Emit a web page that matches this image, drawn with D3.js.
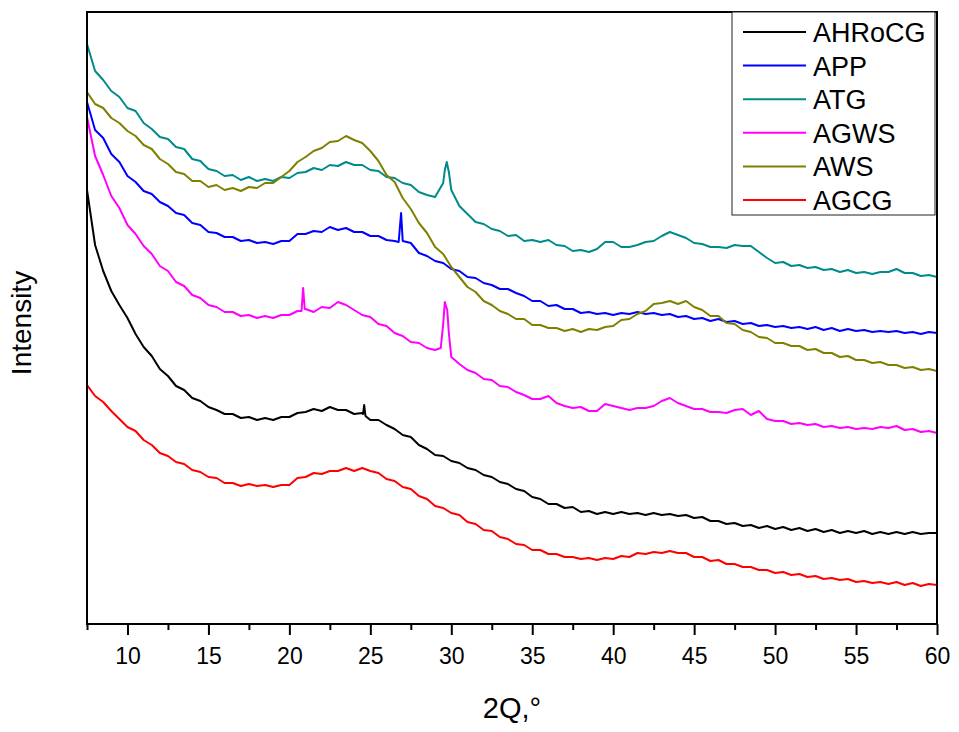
<!DOCTYPE html>
<html>
<head>
<meta charset="utf-8">
<script src="https://cdn.jsdelivr.net/npm/d3@7"></script>
<style>
  body { margin: 0; background: #fff; }
  svg { display: block; font-family: "Liberation Sans", Arial, sans-serif; }
</style>
</head>
<body>
<div id="chart"></div>
<script>
// diffraction angle grid (degrees)
const twoTheta = [
  7.5, 8, 8.5, 9, 9.5, 10, 10.5, 11, 11.5, 12,
  12.5, 13, 13.5, 14, 14.5, 15, 15.5, 16, 16.5, 17,
  17.5, 18, 18.5, 19, 19.5, 20, 20.5, 21, 21.5, 22,
  22.5, 23, 23.5, 24, 24.5, 25, 25.5, 26, 26.5, 27,
  27.5, 28, 28.5, 29, 29.5, 30, 30.5, 31, 31.5, 32,
  32.5, 33, 33.5, 34, 34.5, 35, 35.5, 36, 36.5, 37,
  37.5, 38, 38.5, 39, 39.5, 40, 40.5, 41, 41.5, 42,
  42.5, 43, 43.5, 44, 44.5, 45, 45.5, 46, 46.5, 47,
  47.5, 48, 48.5, 49, 49.5, 50, 50.5, 51, 51.5, 52,
  52.5, 53, 53.5, 54, 54.5, 55, 55.5, 56, 56.5, 57,
  57.5, 58, 58.5, 59, 59.5, 60
];

// intensities (a.u., stacked as plotted)
const ahrocg = [
  434, 379, 353, 333, 319, 306, 290, 277, 268, 255,
  248, 238, 234, 226, 223, 217, 214, 210, 210, 206,
  207, 204, 206, 204, 207, 207, 211, 212, 215, 213,
  217, 214, 214, 210, 211, 204, 204, 199, 195, 189,
  187, 179, 175, 169, 168, 163, 161, 156, 154, 149,
  147, 142, 140, 135, 133, 127, 125, 120, 120, 116,
  117, 112, 113, 110, 112, 110, 112, 110, 111, 109,
  111, 109, 110, 108, 109, 106, 107, 103, 103, 100,
  101, 98, 99, 96, 98, 95, 97, 94, 96, 93,
  95, 92, 94, 91, 93, 91, 93, 90, 92, 90,
  92, 90, 92, 90, 91, 91
];
const app = [
  522, 494, 486, 470, 462, 448, 442, 433, 430, 422,
  418, 411, 409, 401, 399, 392, 391, 387, 387, 383,
  384, 381, 382, 380, 383, 383, 390, 390, 393, 392,
  397, 394, 396, 392, 392, 388, 388, 384, 383, 383,
  381, 371, 368, 363, 361, 355, 353, 347, 346, 341,
  339, 335, 335, 331, 328, 323, 323, 318, 319, 315,
  315, 311, 312, 310, 311, 309, 311, 310, 312, 310,
  311, 309, 310, 307, 308, 305, 306, 303, 305, 302,
  303, 300, 301, 298, 299, 297, 298, 296, 297, 295,
  297, 294, 296, 293, 295, 293, 294, 292, 293, 292,
  293, 291, 292, 290, 292, 291
];
const atg = [
  580, 553, 544, 533, 527, 516, 513, 501, 495, 487,
  485, 477, 475, 465, 463, 455, 453, 448, 449, 444,
  447, 443, 445, 443, 447, 446, 451, 452, 456, 454,
  459, 458, 462, 459, 459, 454, 453, 447, 446, 441,
  439, 432, 429, 427, 441, 434, 418, 410, 402, 400,
  395, 393, 388, 389, 383, 384, 382, 384, 379, 378,
  373, 374, 372, 375, 382, 382, 377, 377, 379, 382,
  383, 388, 392, 389, 386, 381, 380, 377, 377, 376,
  379, 378, 378, 372, 366, 361, 362, 358, 359, 356,
  357, 354, 355, 352, 354, 351, 352, 350, 352, 352,
  355, 351, 351, 348, 349, 347
];
const agws = [
  507, 468, 449, 428, 416, 399, 390, 378, 370, 358,
  353, 342, 338, 329, 326, 319, 317, 312, 312, 308,
  309, 306, 308, 306, 309, 309, 313, 315, 312, 317,
  316, 322, 319, 314, 309, 307, 300, 298, 291, 288,
  282, 281, 276, 274, 300, 267, 260, 254, 251, 245,
  244, 238, 237, 232, 229, 225, 225, 228, 221, 218,
  216, 217, 213, 213, 220, 218, 216, 214, 216, 216,
  218, 223, 226, 221, 218, 215, 215, 212, 212, 211,
  214, 215, 209, 213, 205, 203, 203, 200, 201, 199,
  200, 197, 198, 196, 197, 195, 196, 195, 197, 196,
  198, 194, 195, 192, 193, 191
];
const aws = [
  532, 520, 516, 506, 501, 493, 488, 479, 475, 465,
  460, 452, 450, 443, 443, 437, 439, 434, 436, 433,
  437, 436, 441, 441, 447, 453, 462, 467, 473, 476,
  482, 483, 488, 484, 481, 473, 463, 449, 442, 426,
  415, 401, 391, 377, 370, 357, 347, 337, 332, 323,
  319, 313, 310, 305, 305, 299, 299, 296, 296, 293,
  295, 292, 295, 294, 297, 298, 304, 305, 310, 313,
  320, 321, 323, 320, 323, 317, 314, 308, 308, 301,
  300, 294, 292, 287, 286, 281, 281, 278, 278, 274,
  275, 271, 271, 267, 268, 264, 264, 261, 262, 259,
  259, 256, 257, 254, 255, 253
];
const agcg = [
  239, 228, 222, 213, 205, 197, 193, 184, 179, 171,
  168, 162, 160, 154, 152, 147, 146, 141, 141, 138,
  140, 138, 139, 137, 139, 139, 146, 147, 151, 150,
  153, 153, 156, 153, 156, 153, 151, 145, 143, 137,
  135, 128, 125, 118, 116, 111, 109, 102, 100, 94,
  93, 87, 85, 80, 79, 74, 74, 70, 70, 67,
  67, 65, 66, 64, 66, 65, 68, 67, 71, 70,
  72, 71, 73, 71, 71, 67, 67, 63, 64, 60,
  60, 57, 57, 54, 54, 51, 52, 49, 50, 47,
  48, 45, 46, 44, 45, 42, 43, 41, 42, 40,
  42, 39, 41, 38, 40, 39
];

// sharp reflections read between grid points: [2theta, intensity]
const ahrocgPeaks = [[24.55, 210], [24.62, 219], [24.7, 208]];
const appPeaks = [[26.75, 382], [26.9, 411]];
const atgPeaks = [[29.6, 454], [29.72, 462], [29.85, 452]];
const agwsPeaks = [[20.75, 313], [20.85, 336], [20.95, 315], [29.35, 276], [29.6, 322], [29.75, 314], [29.85, 291]];
const awsPeaks = [];
const agcgPeaks = [];

const seriesNames = ['AHRoCG', 'APP', 'ATG', 'AGWS', 'AWS', 'AGCG'];
const seriesColors = ['#000000', '#0000ff', '#008b8b', '#ff00ff', '#808000', '#ff0000'];
const xTicks = [10, 15, 20, 25, 30, 35, 40, 45, 50, 55, 60];
const xMinorTicks = [7.5, 12.5, 17.5, 22.5, 27.5, 32.5, 37.5, 42.5, 47.5, 52.5, 57.5];

document.addEventListener('DOMContentLoaded', function () {
  const width = 959, height = 732;
  const plot = { left: 87, right: 937, top: 12, bottom: 624 };

  const svg = d3.select('#chart').append('svg')
    .attr('width', width)
    .attr('height', height);

  const x = d3.scaleLinear().domain([7.5, 60]).range([plot.left, plot.right]);
  const y = d3.scaleLinear().domain([0, 612]).range([plot.bottom, plot.top]);

  const allValues = [ahrocg, app, atg, agws, aws, agcg];
  const allPeaks = [ahrocgPeaks, appPeaks, atgPeaks, agwsPeaks, awsPeaks, agcgPeaks];

  const series = seriesNames.map((name, i) => {
    let pts = twoTheta.map((t, j) => [t, allValues[i][j]]).concat(allPeaks[i]);
    pts.sort((a, b) => a[0] - b[0]);
    return { name: name, color: seriesColors[i], points: pts };
  });

  const line = d3.line()
    .x(d => x(d[0]))
    .y(d => y(d[1]));

  svg.append('defs').append('clipPath').attr('id', 'clip')
    .append('rect')
    .attr('x', plot.left).attr('y', plot.top)
    .attr('width', plot.right - plot.left)
    .attr('height', plot.bottom - plot.top);

  svg.append('g').attr('clip-path', 'url(#clip)')
    .selectAll('path')
    .data(series)
    .join('path')
    .attr('d', d => line(d.points))
    .attr('fill', 'none')
    .attr('stroke', d => d.color)
    .attr('stroke-width', 2)
    .attr('stroke-linejoin', 'round');

  // minor ticks
  svg.append('g')
    .attr('transform', `translate(0,${plot.bottom})`)
    .call(d3.axisBottom(x).tickValues(xMinorTicks).tickSize(6).tickFormat(''))
    .call(g => g.select('.domain').remove())
    .call(g => g.selectAll('line').attr('stroke-width', 2));

  // major ticks
  svg.append('g')
    .attr('transform', `translate(0,${plot.bottom})`)
    .call(d3.axisBottom(x).tickValues(xTicks).tickSize(11).tickPadding(13))
    .call(g => g.select('.domain').remove())
    .call(g => g.selectAll('line').attr('stroke-width', 2))
    .call(g => g.selectAll('text')
      .attr('font-size', 23)
      .attr('font-family', '"Liberation Sans", Arial, sans-serif')
      .attr('fill', '#000'));

  // frame
  svg.append('rect')
    .attr('x', plot.left).attr('y', plot.top)
    .attr('width', plot.right - plot.left)
    .attr('height', plot.bottom - plot.top)
    .attr('fill', 'none')
    .attr('stroke', '#000')
    .attr('stroke-width', 2);

  svg.append('text')
    .attr('x', 512).attr('y', 718)
    .attr('text-anchor', 'middle')
    .attr('font-size', 29)
    .text('2Q,°');

  svg.append('text')
    .attr('transform', 'translate(31,323) rotate(-90)')
    .attr('text-anchor', 'middle')
    .attr('font-size', 28)
    .text('Intensity');

  // legend
  const legend = svg.append('g');
  legend.append('rect')
    .attr('x', 732).attr('y', 12)
    .attr('width', 203).attr('height', 203)
    .attr('fill', '#fff')
    .attr('stroke', '#222')
    .attr('stroke-width', 1);

  const rows = legend.selectAll('g.row')
    .data(series)
    .join('g')
    .attr('class', 'row')
    .attr('transform', (d, i) => `translate(0,${32 + i * 33.6})`);

  rows.append('line')
    .attr('x1', 743).attr('x2', 806)
    .attr('stroke', d => d.color)
    .attr('stroke-width', 2);

  rows.append('text')
    .attr('x', 813).attr('y', 10)
    .attr('font-size', 27)
    .text(d => d.name);
});
</script>
</body>
</html>
